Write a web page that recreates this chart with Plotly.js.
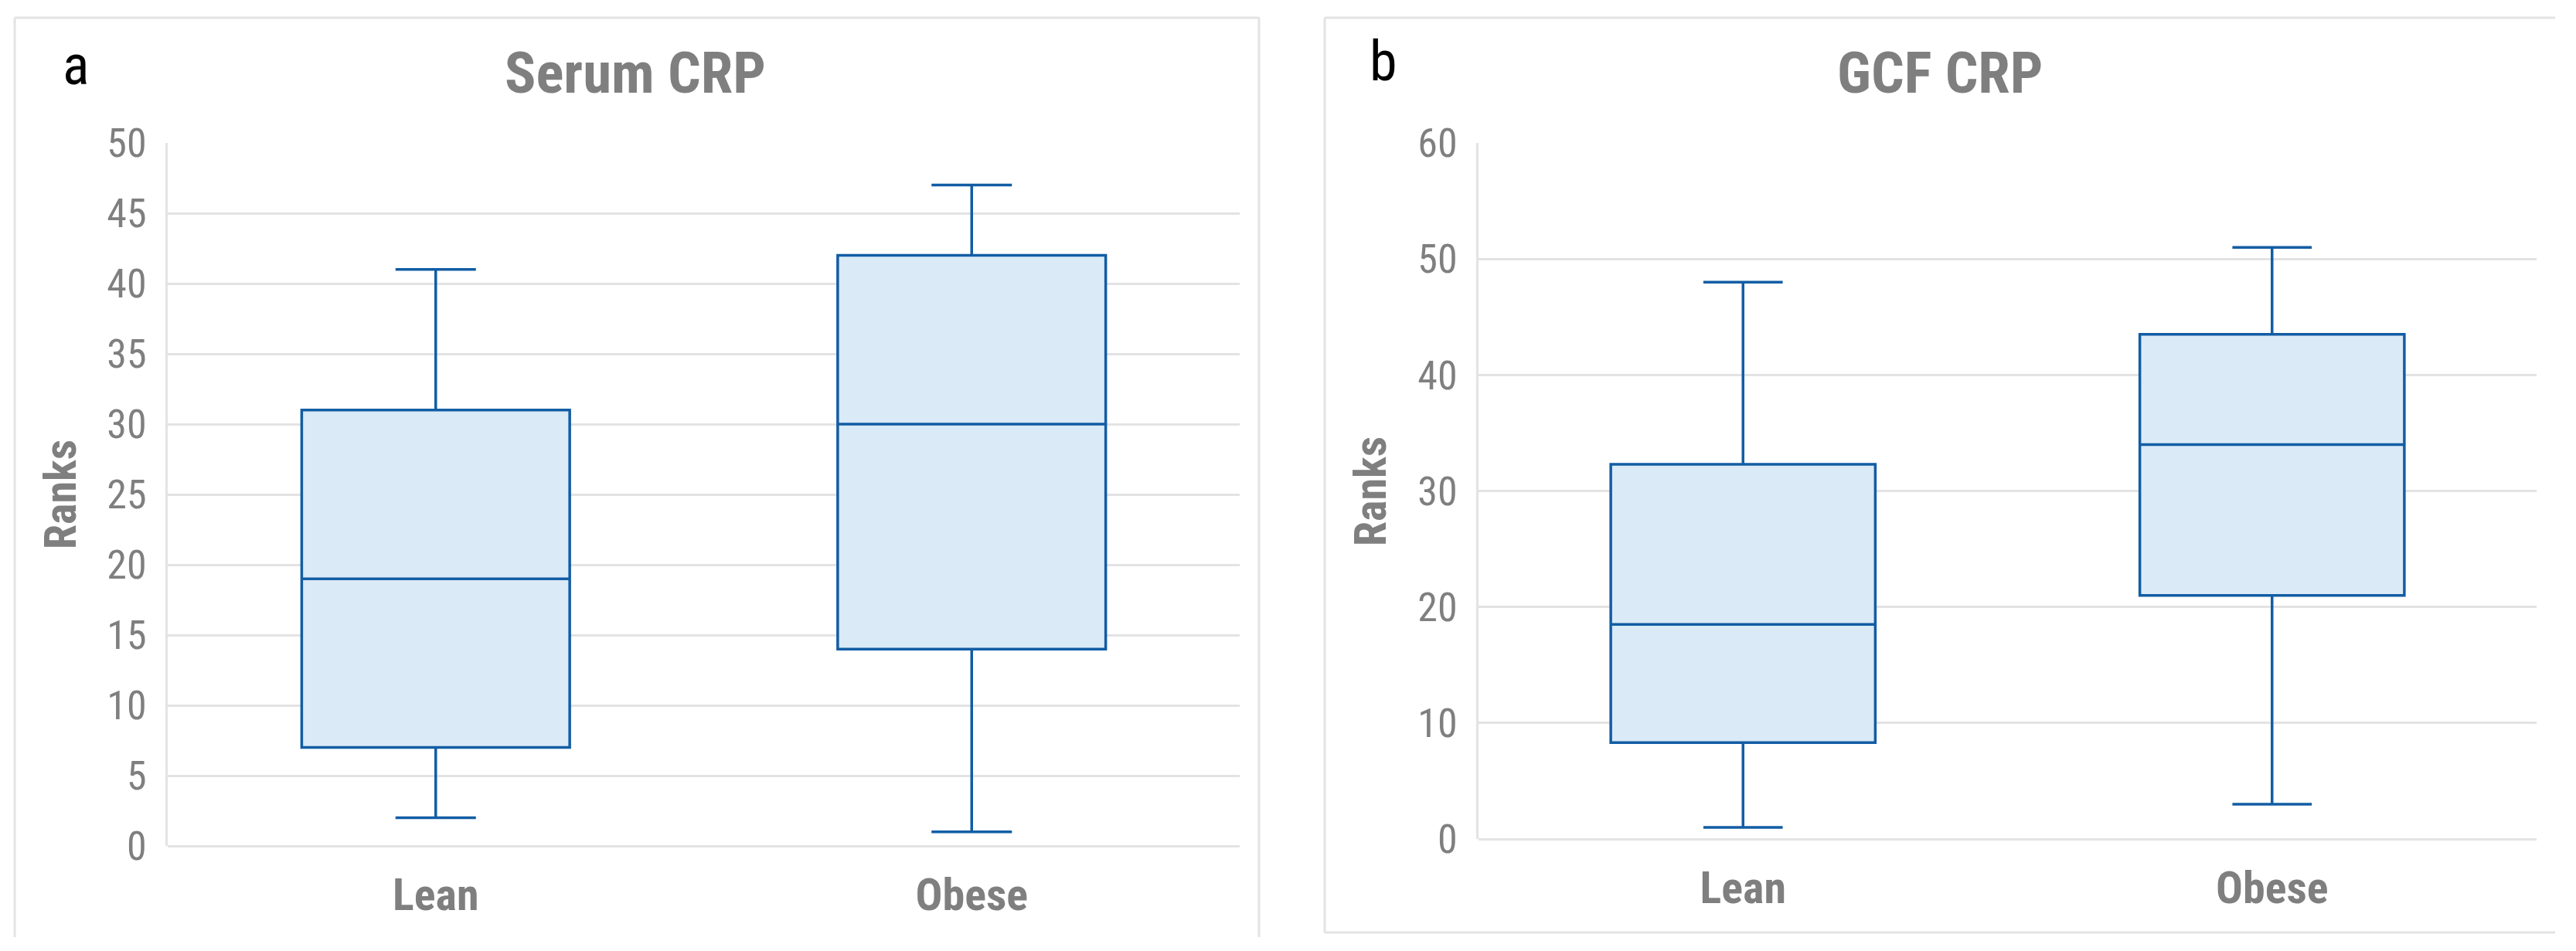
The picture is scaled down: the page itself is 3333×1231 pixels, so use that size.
<!DOCTYPE html>
<html>
<head>
<meta charset="utf-8">
<script src="https://cdn.plot.ly/plotly-3.0.1.min.js"></script>
<style>html,body{margin:0;padding:0;background:#fff;}#chart{width:3333px;height:1231px;}</style>
</head>
<body>
<div id="chart"></div>
<script>
// ---- data ----
const categories = ['Lean', 'Obese'];

// Panel a: Serum CRP (ranks)
const serumMin    = [2, 1];
const serumQ1     = [7, 14];
const serumMedian = [19, 30];
const serumQ3     = [31, 42];
const serumMax    = [41, 47];

// Panel b: GCF CRP (ranks)
const gcfMin    = [1, 3];
const gcfQ1     = [8.3, 21];
const gcfMedian = [18.5, 34];
const gcfQ3     = [32.3, 43.5];
const gcfMax    = [48, 51];

const panelTitles = ['Serum CRP', 'GCF CRP'];
const panelLetters = ['a', 'b'];
const yTitle = 'Ranks';

// ---- styles ----
const W = 3333, H = 1231;
const lineBlue = '#125da4';
const fillBlue = '#daeaf7';
const gridGray = '#e3e3e3';
const textGray = '#7f7f7f';
const FONT = '"Liberation Sans Narrow", "Roboto Condensed", "Open Sans", sans-serif';

function px(x) { return x / W; }
function py(y) { return 1 - y / H; }

function boxTrace(q1, med, q3, lo, hi, xa, ya) {
  return {
    type: 'box',
    x: categories,
    q1: q1, median: med, q3: q3, lowerfence: lo, upperfence: hi,
    xaxis: xa, yaxis: ya,
    width: 0.5,
    whiskerwidth: 0.3,
    boxpoints: false,
    fillcolor: fillBlue,
    line: { color: lineBlue, width: 3.5 },
    showlegend: false,
    hoverinfo: 'skip'
  };
}

const data = [
  boxTrace(serumQ1, serumMedian, serumQ3, serumMin, serumMax, 'x', 'y'),
  boxTrace(gcfQ1, gcfMedian, gcfQ3, gcfMin, gcfMax, 'x2', 'y2')
];

function xAxis(domain) {
  return {
    domain: domain, type: 'category', range: [-0.5, 1.5], fixedrange: true,
    showgrid: false, zeroline: false, showline: false, ticks: '',
    tickfont: { family: FONT, size: 58, color: textGray, weight: 'bold' },
    ticklabelstandoff: 24, automargin: false
  };
}
function yAxis(domain, anchor, max, dtick) {
  return {
    domain: domain, anchor: anchor, range: [0, max], dtick: dtick, tick0: 0, fixedrange: true,
    showgrid: true, gridcolor: gridGray, gridwidth: 3,
    zeroline: true, zerolinecolor: gridGray, zerolinewidth: 3,
    showline: true, linecolor: gridGray, linewidth: 3,
    ticks: '', ticklabelstandoff: 14,
    tickfont: { family: FONT, size: 52, color: textGray },
    automargin: false
  };
}

function seg(x0, y0, x1, y1) {
  return { type: 'line', xref: 'paper', yref: 'paper', x0: px(x0), y0: py(y0), x1: px(x1), y1: py(y1),
           line: { color: gridGray, width: 3 }, layer: 'below' };
}

const layout = {
  width: W, height: H,
  margin: { l: 0, r: 0, t: 0, b: 0 },
  paper_bgcolor: '#ffffff', plot_bgcolor: '#ffffff',
  showlegend: false,
  xaxis: Object.assign(xAxis([px(217), px(1604)]), { anchor: 'y' }),
  yaxis: yAxis([py(1095), py(185)], 'x', 50, 5),
  xaxis2: Object.assign(xAxis([px(1913), px(3282)]), { anchor: 'y2' }),
  yaxis2: yAxis([py(1086), py(185)], 'x2', 60, 10),
  shapes: [
    // panel a frame (left, top, right)
    seg(19, 23, 19, 1213), seg(19, 23, 1629, 23), seg(1629, 23, 1629, 1213),
    // panel b frame (left, top, bottom)
    seg(1714, 23, 1714, 1207), seg(1714, 23, 3306, 23), seg(1714, 1207, 3306, 1207)
  ],
  annotations: [
    { text: panelTitles[0], xref: 'paper', yref: 'paper', x: px(822), y: py(94), xanchor: 'center', yanchor: 'middle',
      showarrow: false, font: { family: FONT, size: 75, color: textGray, weight: 'bold' } },
    { text: panelTitles[1], xref: 'paper', yref: 'paper', x: px(2510), y: py(94), xanchor: 'center', yanchor: 'middle',
      showarrow: false, font: { family: FONT, size: 75, color: textGray, weight: 'bold' } },
    { text: panelLetters[0], xref: 'paper', yref: 'paper', x: px(98), y: py(84), xanchor: 'center', yanchor: 'middle',
      showarrow: false, font: { family: FONT, size: 72, color: '#000000' } },
    { text: panelLetters[1], xref: 'paper', yref: 'paper', x: px(1790), y: py(80), xanchor: 'center', yanchor: 'middle',
      showarrow: false, font: { family: FONT, size: 72, color: '#000000' } },
    { text: yTitle, xref: 'paper', yref: 'paper', x: px(78), y: py(640), xanchor: 'center', yanchor: 'middle', textangle: -90,
      showarrow: false, font: { family: FONT, size: 58, color: textGray, weight: 'bold' } },
    { text: yTitle, xref: 'paper', yref: 'paper', x: px(1773), y: py(636), xanchor: 'center', yanchor: 'middle', textangle: -90,
      showarrow: false, font: { family: FONT, size: 58, color: textGray, weight: 'bold' } }
  ]
};

Plotly.newPlot('chart', data, layout, { staticPlot: true, displayModeBar: false });
</script>
</body>
</html>
